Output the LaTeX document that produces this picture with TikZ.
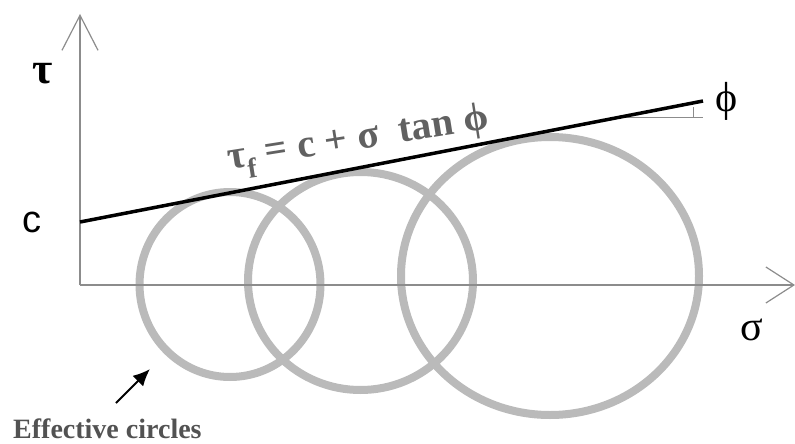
\documentclass[tikz,border=0pt]{standalone}
\usepackage{fontspec}
\setmainfont{Liberation Serif}
\newfontfamily\arialfont{Liberation Sans}
\usepackage{xcolor}
\usetikzlibrary{positioning,arrows.meta}

\begin{document}
\begin{tikzpicture}[
    x=1pt, y=-1pt,
    axis/.style={draw=black!45, line width=1.2pt},
    barb/.style={-{Straight Barb[length=#1,width=36pt,line width=1.2pt]}},
    envelope/.style={draw=black, line width=3.5pt},
    mohr/.style={draw=black!27, line width=8pt},
    lbl/.style={inner sep=0pt, font=\fontsize{42}{42}\selectfont},
    note/.style={inner sep=0pt, text=black!62, font=\bfseries\fontsize{40}{40}\selectfont}
]
    \useasboundingbox (0,0) rectangle (795,444);

    % Mohr circles
    \draw[mohr] (230,284.5) ellipse [x radius=90.5, y radius=92.5];
    \draw[mohr] (360.5,281) ellipse [x radius=112.5, y radius=109];
    \draw[mohr] (550,276) ellipse [x radius=149, y radius=139];

    % axes
    \coordinate (O) at (80,285);
    \coordinate (ytip) at (80,14);
    \coordinate (xtip) at (795,285);
    \draw[axis, barb=35pt] (O) -- (ytip);
    \draw[axis, barb=28pt] (O) -- (xtip);

    % failure envelope
    \coordinate (c0) at (80,222);
    \coordinate (cend) at (703,101);
    \coordinate (a0) at (625,117);
    \coordinate (a1) at (703,117);
    \coordinate (t0) at (693,107);
    \coordinate (t1) at (693,117);
    \draw[axis, line width=0.8pt] (a0) -- (a1);
    \draw[axis, line width=0.8pt] (t0) -- (t1);
    \draw[envelope] (c0) -- (cend);

    \node[lbl, font=\bfseries\fontsize{44}{44}\selectfont] (tau) at (43,74) {τ};
    \node[lbl, left=38pt of c0, font=\arialfont\fontsize{38}{38}\selectfont] (c) {c};
    \node[lbl] (sigma) at (752,330) {σ};
    \node[lbl, right=12pt of cend] (phi) {ϕ};

    \node[note, anchor=base west, rotate=9] (law) at (229,170)
        {τ\textsubscript{f} = c + σ\ \ tan ϕ};

    % label for circles
    \node[note, anchor=base west, text=black!68,
          font=\bfseries\fontsize{28}{28}\selectfont] (eff) at (13,438) {Effective circles};
    \coordinate (ptail) at (116,403);
    \coordinate (phead) at (150,369);
    \draw[line width=2pt, -{Latex[length=17pt,width=15pt]}] (ptail) -- (phead);
\end{tikzpicture}
\end{document}
